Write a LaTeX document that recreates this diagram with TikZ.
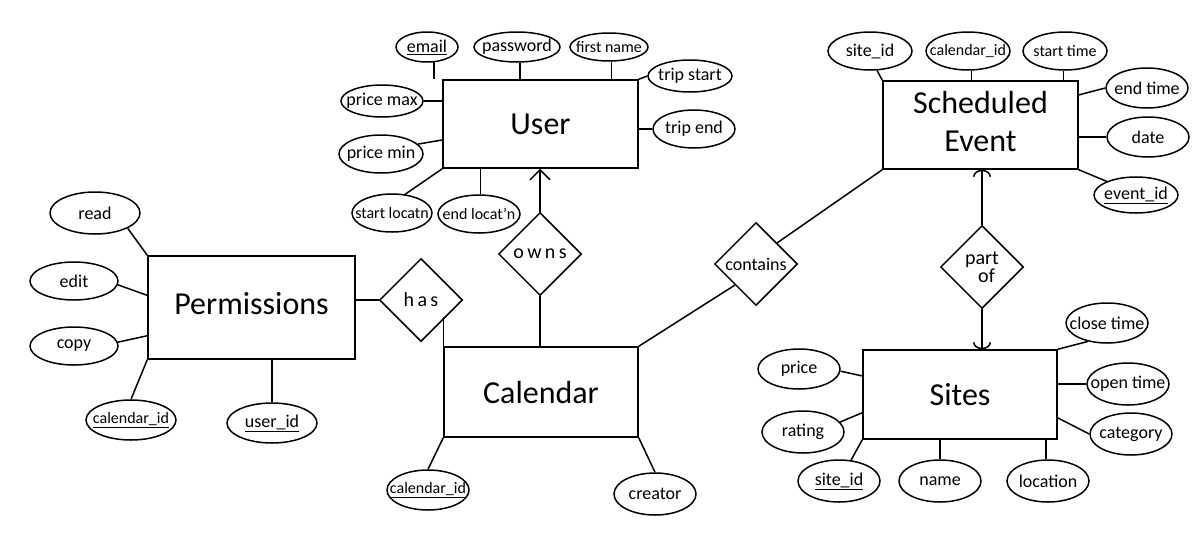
\documentclass[tikz,border=0pt]{standalone}
\usepackage{fontspec}
\setmainfont{Carlito}
\usetikzlibrary{shapes.geometric,arrows.meta}
\newcommand{\zb}[1]{\makebox[0pt]{#1}}
\begin{document}
\begin{tikzpicture}[x=1pt,y=-1pt,line width=1.5pt,
  ent/.style={draw,rectangle,inner sep=0pt,font=\fontsize{32}{38}\selectfont,align=center},
  attr/.style={draw,ellipse,inner sep=0pt,minimum width=82pt,minimum height=40pt,font=\fontsize{18}{20}\selectfont},
  sattr/.style={attr,font=\fontsize{16}{18}\selectfont},
  rel/.style={draw,diamond,aspect=1,inner sep=0pt,minimum width=83pt,minimum height=83pt,font=\fontsize{20}{20}\selectfont,align=center},
  owntip/.style={-{Straight Barb[length=10pt,width=20pt,line width=1.5pt]}},
  arctip/.style={-{Arc Barb[length=7pt,width=18pt,line width=1.5pt]}}]
\fill[white] (0,0) rectangle (1198,544);
\useasboundingbox (0,0) rectangle (1198,544);

% entities
\node[ent,minimum width=195pt,minimum height=88pt] (user) at (540.5,124) {User};
\node[ent,minimum width=207pt,minimum height=103pt] (perm) at (251.5,307.5) {\raisebox{9pt}{Permissions}};
\node[ent,minimum width=194pt,minimum height=90pt] (cal) at (541,392) {Calendar};
\node[ent,minimum width=195pt,minimum height=88pt] (se) at (980.5,125) {\raisebox{4pt}{\begin{tabular}{@{}c@{}}Scheduled\\Event\end{tabular}}};
\node[ent,minimum width=194pt,minimum height=89pt] (sites) at (960,394.5) {Sites};

% relationships
\node[rel] (owns) at (540,254) {o\,w\,n\,s};
\node[rel] (has) at (421,300) {h\,a\,s};
\node[rel,font=\fontsize{18}{18}\selectfont] (contains) at (756,264) {contains};
\node[rel] (partof) at (982,267) {part\\[-2pt]\ \ of};

% User attributes
\node[attr,minimum width=62pt,minimum height=30pt] (email) at (427,47) {\zb{\underline{email}}};
\node[attr,minimum width=86pt,minimum height=30pt] (password) at (517,47) {\zb{password}};
\node[sattr,minimum width=78pt,minimum height=28pt] (firstname) at (609,47) {\zb{first name}};
\node[attr,minimum width=84pt,minimum height=32pt] (tripstart) at (690,76) {\zb{trip start}};
\node[attr,minimum width=82pt,minimum height=38pt] (tripend) at (694,129) {\zb{trip end}};
\node[attr,minimum width=82pt,minimum height=32pt] (pricemax) at (382,101) {\zb{price max}};
\node[attr,minimum width=84pt,minimum height=38pt] (pricemin) at (381,154) {\zb{price min}};
\node[sattr,minimum width=80pt,minimum height=38pt] (startloc) at (392,213) {\zb{start locatn}};
\node[sattr,minimum width=82pt,minimum height=38pt] (endloc) at (479,214) {\zb{end locat'n}};

% Permissions attributes
\node[attr,minimum width=90pt,minimum height=42pt] (read) at (95,213) {\zb{read}};
\node[attr,minimum width=88pt,minimum height=38pt] (edit) at (74,281) {\zb{edit}};
\node[attr,minimum width=88pt,minimum height=38pt] (copy) at (74,346) {\zb{copy}};
\node[sattr,minimum width=90pt,minimum height=40pt] (pcalid) at (131,420) {\zb{\underline{calendar\_id}}};
\node[attr,minimum width=90pt,minimum height=40pt] (puserid) at (272,423) {\zb{\underline{user\_id}}};

% Calendar attributes
\node[sattr,minimum width=82pt,minimum height=40pt] (ccalid) at (428,490) {\zb{\underline{calendar\_id}}};
\node[attr,minimum width=82pt,minimum height=42pt] (creator) at (655,494) {\zb{creator}};

% Scheduled Event attributes
\node[attr,minimum width=84pt,minimum height=38pt] (ssiteid) at (870,51) {\zb{site\_id}};
\node[sattr,minimum width=84pt,minimum height=38pt] (scalid) at (968,51) {\zb{calendar\_id}};
\node[sattr,minimum width=84pt,minimum height=38pt] (starttime) at (1065,51) {\zb{start time}};
\node[attr,minimum width=82pt,minimum height=40pt] (endtime) at (1147,88) {\zb{end time}};
\node[attr,minimum width=82pt,minimum height=40pt] (date) at (1148,137) {\zb{date}};
\node[attr,minimum width=84pt,minimum height=36pt] (eventid) at (1136,195) {\zb{\underline{event\_id}}};

% Sites attributes
\node[attr] (price) at (799,369) {\zb{price}};
\node[attr,minimum height=42pt] (rating) at (803,432) {\zb{rating}};
\node[attr,minimum height=42pt] (siteid) at (839,481) {\zb{\underline{site\_id}}};
\node[attr,minimum height=42pt] (name) at (940,481) {\zb{name}};
\node[attr,minimum height=42pt] (location) at (1048,481) {\zb{location}};
\node[attr] (closetime) at (1107,323) {\zb{close time}};
\node[attr,minimum height=42pt] (opentime) at (1128,384) {\zb{open time}};
\node[attr,minimum height=42pt] (category) at (1131,434) {\zb{category}};

% User connectors
\draw (email.-65) -- (email.-65 |- user.north);
\draw (password.-80) -- (password.-80 |- user.north);
\draw (firstname.-80) -- (firstname.-80 |- user.north);
\draw (tripstart.west) -- (user.north east);
\draw (tripend.west) -- (tripend.west -| user.east);
\draw (pricemax.east) -- (pricemax.east -| user.west);
\draw (pricemin.15) -- (user.west |- pricemin.25);
\draw (startloc.55) -- (user.south west);
\draw (endloc.85) -- (endloc.85 |- user.south);

% relationship connectors
\draw[owntip] (owns.north) -- (owns.north |- user.south);
\draw (owns.south) -- (owns.south |- cal.north);
\draw (has.west) -- (has.west -| perm.east);
\draw (cal.north west) -- ++(0,-29);
\draw (cal.north east) -- (contains.south west);
\draw (contains.north east) -- (se.south west);
\draw[arctip] (partof.north) -- (partof.north |- se.south);
\draw[arctip] (partof.south) -- (partof.south |- sites.north);

% Permissions connectors
\draw (read.-25) -- (perm.north west);
\draw (edit.-5) -- (perm.west |- edit.-25);
\draw (copy.5) -- (perm.west |- copy.15);
\draw (pcalid.north) -- (perm.south west);
\draw (puserid.north) -- (puserid.north |- perm.south);

% Calendar connectors
\draw (ccalid.north) -- (cal.south west);
\draw (creator.north) -- (cal.south east);

% Scheduled Event connectors
\draw (ssiteid.-70) -- (se.north west);
\draw (scalid.-80) -- (scalid.-80 |- se.north);
\draw (starttime.-95) -- (starttime.-95 |- se.north);
\draw (endtime.west) -- (se.east |- endtime.-10);
\draw (date.west) -- (date.west -| se.east);
\draw (eventid.155) -- (se.south east);

% Sites connectors
\draw (price.-3) -- (sites.west |- price.-10);
\draw (rating.15) -- (sites.west |- rating.45);
\draw (siteid.60) -- (sites.south west);
\draw (name.north) -- (name.north |- sites.south);
\draw (location.95) -- (location.95 |- sites.south);
\draw (closetime.-136) -- (sites.north east);
\draw (opentime.west) -- (opentime.west -| sites.east);
\draw (category.west) -- (sites.east |- category.150);
\end{tikzpicture}
\end{document}
